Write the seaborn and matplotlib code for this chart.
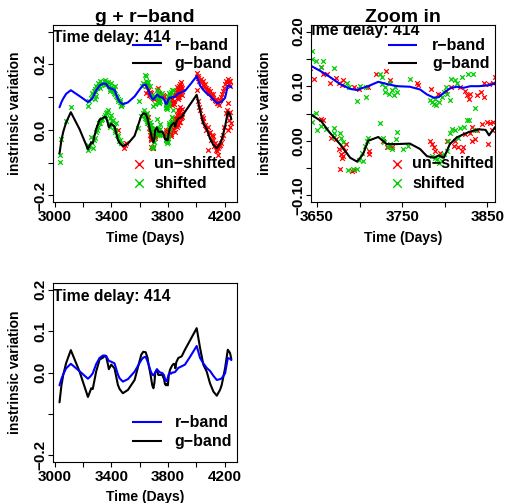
import numpy as np
import matplotlib
matplotlib.use("Agg")
import matplotlib.pyplot as plt
import seaborn as sns

# ---------------------------------------------------------------------------
# Model light curves (intrinsic variation) for the two bands
curve_t = [3033, 3047, 3060, 3080, 3113, 3175, 3234, 3250, 3257, 3268, 3292,
           3316, 3340, 3354, 3363, 3375, 3382, 3399, 3422, 3446, 3458, 3481,
           3517, 3564, 3611, 3625, 3642, 3655, 3665, 3677, 3689, 3697, 3704,
           3710, 3722, 3732, 3744, 3759, 3771, 3779, 3787, 3793, 3799, 3806,
           3814, 3822, 3830, 3840, 3848, 3852, 3859, 3873, 3897, 3920, 3960,
           4003, 4027, 4050, 4074, 4097, 4121, 4145, 4168, 4180, 4204, 4223,
           4239, 4248]
curve_g = [-0.072, -0.030, -0.005, 0.023, 0.054, 0.002, -0.059, -0.045, -0.038,
           -0.040, 0.002, 0.031, 0.036, 0.040, 0.038, 0.020, 0.008, 0.019,
           0.010, -0.030, -0.040, -0.050, -0.042, -0.018, 0.043, 0.050, 0.049,
           0.036, 0.015, -0.006, -0.031, -0.038, -0.025, 0.000, 0.007, -0.006,
           -0.006, -0.005, -0.015, -0.028, -0.031, -0.027, -0.031, -0.006,
           0.006, 0.012, 0.017, 0.021, 0.020, 0.010, 0.025, 0.035, 0.039,
           0.055, 0.080, 0.107, 0.059, 0.019, 0.002, -0.026, -0.046, -0.056,
           -0.042, -0.030, 0.011, 0.055, 0.047, 0.032]
curve_r = [-0.031, -0.015, -0.004, 0.010, 0.021, 0.003, -0.015, -0.010, -0.007,
           -0.002, 0.020, 0.035, 0.041, 0.041, 0.040, 0.032, 0.028, 0.026,
           0.022, -0.005, -0.014, -0.022, -0.016, 0.002, 0.030, 0.036, 0.038,
           0.027, 0.017, 0.004, -0.005, -0.007, -0.003, 0.000, 0.008, 0.004,
           0.000, -0.001, -0.006, -0.015, -0.021, -0.020, -0.012, -0.004,
           -0.001, -0.003, 0.000, 0.000, 0.001, 0.002, 0.005, 0.011, 0.015,
           0.019, 0.040, 0.064, 0.035, 0.022, 0.011, 0.004, -0.008, -0.018,
           -0.016, -0.014, -0.002, 0.035, 0.033, 0.030]

# Observed points: image A (un-shifted, red) and image B (shifted, green)
shift_r_t = [3234, 3240, 3257, 3264, 3270, 3275, 3281, 3281, 3286, 3292, 3292,
             3298, 3304, 3310, 3316, 3321, 3327, 3335, 3345, 3352, 3358, 3363,
             3370, 3378, 3382, 3388, 3392, 3395, 3399, 3406, 3410, 3415, 3418,
             3422, 3426, 3430, 3438, 3446, 3450, 3458, 3462, 3466, 3470, 3475,
             3595, 3618, 3623, 3635,
             3644, 3644, 3649, 3655, 3657, 3670, 3685, 3688, 3697, 3701, 3708,
             3708, 3724, 3726, 3726, 3730, 3730, 3734, 3736, 3738, 3740, 3742,
             3744, 3759, 3783, 3785, 3787, 3789, 3790, 3793, 3797, 3799, 3801,
             3803, 3806, 3807, 3812, 3814, 3820, 3827, 3833, 3835]
shift_r_v = [-0.028, -0.012, -0.003, 0.013, 0.010, 0.020, 0.018, -0.006, 0.025,
             0.033, 0.003, 0.028, 0.042, 0.035, 0.049, 0.028, 0.040, 0.044,
             0.050, 0.038, 0.052, 0.046, 0.040, 0.045, 0.033, 0.025, 0.018,
             0.030, 0.044, 0.028, 0.020, 0.013, 0.025, 0.033, 0.010, 0.003,
             0.000, -0.006, -0.012, -0.016, -0.010, -0.028, -0.023, -0.020,
             -0.013, 0.033, 0.044, 0.066,
             0.064, 0.049, 0.047, 0.035, 0.047, 0.033, 0.005, -0.001, -0.027,
             0.001, -0.020, -0.001, 0.022, 0.004, 0.017, -0.001, -0.011,
             -0.014, 0.005, -0.007, -0.017, -0.001, -0.011, 0.014, -0.025,
             -0.029, -0.032, -0.023, -0.035, -0.029, -0.020, -0.011, -0.001,
             -0.014, -0.025, 0.014, 0.011, 0.005, 0.017, 0.022, 0.023, -0.040]

shift_g_t = [3033, 3035, 3045, 3076, 3113, 3232, 3236, 3245, 3257, 3264, 3269,
             3275, 3281, 3288, 3295, 3304, 3310, 3316, 3325, 3335, 3345, 3355,
             3363, 3366, 3375, 3380, 3387, 3392, 3399, 3406, 3410, 3415, 3422,
             3428, 3434, 3439, 3445, 3452, 3458, 3470, 3588, 3611, 3623, 3630,
             3635, 3640,
             3644, 3644, 3649, 3650, 3655, 3661, 3670, 3670, 3670, 3677, 3678,
             3681, 3686, 3692, 3697, 3699, 3703, 3704, 3706, 3709, 3710, 3724,
             3727, 3729, 3733, 3736, 3738, 3743, 3744, 3751, 3757, 3785, 3789,
             3791, 3793, 3795, 3797, 3799, 3803, 3804, 3806, 3808, 3812, 3816,
             3818, 3823, 3826, 3828, 3836]
shift_g_v = [-0.097, -0.077, -0.029, 0.026, 0.070, -0.046, -0.062, -0.050,
             -0.021, -0.041, -0.056, -0.030, -0.026, -0.005, 0.000, 0.010,
             0.020, 0.021, 0.030, 0.033, 0.040, 0.045, 0.051, 0.056, 0.062,
             0.020, 0.036, 0.010, 0.046, 0.026, 0.030, 0.010, -0.005, 0.000,
             0.021, -0.015, -0.020, -0.035, -0.031, -0.041, 0.005, 0.041, 0.051,
             0.060, 0.036, 0.045,
             0.048, 0.034, 0.051, 0.020, 0.028, 0.022, 0.024, 0.015, 0.007,
             0.015, 0.006, -0.003, -0.054, -0.052, -0.051, -0.036, -0.022,
             -0.037, -0.009, 0.000, 0.006, 0.032, 0.006, -0.003, -0.011, -0.006,
             -0.015, 0.003, 0.017, -0.015, -0.009, -0.028, -0.031, -0.034,
             -0.040, -0.028, -0.037, -0.025, -0.019, 0.000, 0.015, 0.022, 0.019,
             0.006, 0.024, 0.025, 0.038, 0.038, 0.020]

unshift_r_t = [3642, 3647, 3655, 3657, 3662, 3665, 3672, 3676, 3679, 3681, 3693,
               3699, 3710, 3719, 3731, 3736, 3767, 3769, 3784, 3792, 3795, 3801,
               3807, 3818, 3824, 3826, 3828, 3830, 3838, 3842, 3846, 3846, 3852,
               3857, 3859, 3862, 3863, 3866, 3868, 3870, 3871, 3874, 3876, 3878,
               3880, 3882, 3884, 3886, 3888, 3890, 3892, 3894, 3896, 3898, 3899,
               4003, 4010, 4015, 4022, 4034, 4040, 4045, 4050, 4058, 4060, 4067,
               4075, 4080, 4085, 4092, 4100, 4104, 4110, 4115, 4121, 4130, 4138,
               4140, 4147, 4156, 4162, 4168, 4175, 4185, 4192, 4199, 4204, 4209,
               4215, 4223, 4228, 4232, 4238, 4242]
unshift_r_v = [0.033, 0.013, 0.036, 0.023, 0.023, 0.006, 0.015, 0.006, 0.002,
               0.012, -0.002, -0.006, -0.002, 0.023, 0.027, 0.012, 0.005, 0.002,
               -0.006, -0.014, -0.017, -0.009, -0.001, -0.001, -0.009, -0.017,
               -0.023, -0.014, -0.017, -0.011, 0.005, -0.020, 0.004, 0.005,
               0.017, 0.005, 0.030, 0.020, -0.005, 0.028, 0.000, 0.012, 0.025,
               0.035, 0.000, 0.018, 0.010, 0.040, 0.030, 0.025, 0.045, 0.032,
               0.005, 0.018, 0.028,
               0.074, 0.065, 0.059, 0.050, 0.054, 0.045, 0.050, 0.038, 0.030,
               0.040, 0.028, 0.022, 0.025, 0.018, 0.012, 0.020, 0.008, 0.000,
               0.010, -0.003, -0.008, -0.013, -0.005, -0.018, -0.018, -0.023,
               -0.008, 0.000, 0.008, 0.018, 0.028, 0.040, 0.049, 0.045, 0.054,
               0.048, 0.041, 0.050, 0.035]

unshift_g_t = [3446, 3486, 3493, 3505,
               3655, 3657, 3666, 3672, 3676, 3677, 3678, 3679, 3681, 3681, 3683,
               3684, 3691, 3693, 3711, 3711, 3728, 3732, 3736, 3738, 3783, 3785,
               3787, 3789, 3795, 3803, 3811, 3812, 3816, 3820, 3822, 3824, 3830,
               3832, 3832, 3836, 3838, 3844, 3850, 3851, 3853, 3855, 3857, 3860,
               3862, 3864, 3866, 3868, 3870, 3872, 3874, 3876, 3878, 3880, 3882,
               3884, 3886, 3888, 3890, 3892, 3895, 3897, 3899,
               4003, 4015, 4020, 4027, 4039, 4045, 4050, 4062, 4070, 4081, 4085,
               4090, 4097, 4105, 4109, 4115, 4121, 4128, 4133, 4140, 4145, 4150,
               4156, 4156, 4162, 4168, 4175, 4185, 4190, 4199, 4209, 4215, 4223,
               4225, 4228, 4232, 4236, 4239, 4244]
unshift_g_v = [0.000, -0.056, -0.046, -0.041,
               0.040, 0.038, 0.006, 0.003, -0.015, -0.052, -0.025, -0.031,
               -0.011, -0.028, -0.019, -0.005, -0.056, -0.054, -0.019, -0.025,
               0.000, -0.012, -0.009, -0.012, 0.000, -0.006, -0.012, -0.019,
               -0.022, 0.000, -0.009, 0.000, -0.012, -0.019, -0.012, 0.012,
               0.015, 0.000, 0.025, 0.003, 0.019, 0.031, 0.034, -0.006, 0.032,
               0.019, 0.034, 0.020, 0.045, 0.035, 0.010, 0.050, 0.015, 0.030,
               0.060, 0.045, 0.025, 0.055, 0.070, 0.040, 0.025, 0.060, 0.035,
               0.048, 0.050, 0.065, 0.040,
               0.123, 0.087, 0.070, 0.062, 0.041, 0.035, 0.026, 0.015, 0.000,
               0.010, -0.062, -0.010, -0.005, -0.030, -0.015, -0.020, -0.031,
               -0.050, -0.041, -0.060, -0.051, -0.065, -0.056, -0.077, -0.050,
               -0.046, -0.040, -0.026, -0.015, 0.010, 0.051, 0.060, 0.082, 0.000,
               0.045, 0.031, 0.055, 0.010, 0.020]

R_OFFSET = 0.1          # r-band drawn 0.1 above the g-band in the overlay panels
DELAY_LABEL = "Time delay: 414"

RED, GREEN, BLUE = "#FF0000", "#00CD00", "#0000FF"

# ---------------------------------------------------------------------------
sns.set_style("white")
plt.rcParams["font.family"] = ["Liberation Sans", "DejaVu Sans"]
plt.rcParams["font.weight"] = "bold"
plt.rcParams["axes.labelweight"] = "bold"
plt.rcParams["axes.titleweight"] = "bold"
plt.rcParams["axes.edgecolor"] = "black"
plt.rcParams["axes.linewidth"] = 0.8
for key in ("text.color", "axes.labelcolor", "xtick.color", "ytick.color"):
    plt.rcParams[key] = "black"

W, H = 507, 503
fig = plt.figure(figsize=(W / 100, H / 100), dpi=100)
fig.patch.set_facecolor("white")


def make_axes(left, top, right, bottom):
    return fig.add_axes([left / W, 1 - bottom / H, (right - left) / W, (bottom - top) / H])


ax1 = make_axes(53, 25, 237, 202)
ax2 = make_axes(311, 25, 495, 202)
ax3 = make_axes(53, 283, 237, 462)

TICK_FS = 11
LEG_FS = 11.5


def style_axes(ax, xticks, xlabels, yticks, ylabels, ylab_x, xlab_y):
    ax.set_xticks(xticks)
    ax.set_xticklabels(xlabels)
    ax.set_yticks(yticks)
    ax.set_yticklabels(ylabels)
    ax.tick_params(direction="out", length=3.6, width=0.8, color="black",
                   labelcolor="black", labelsize=TICK_FS, pad=2.5,
                   bottom=True, left=True)
    ax.tick_params(axis="y", pad=0.5)
    for lab in ax.get_yticklabels():
        lab.set_rotation(90)
        lab.set_va("center")
        lab.set_ha("right")
        lab.set_fontweight("bold")
    for lab in ax.get_xticklabels():
        lab.set_fontweight("bold")
    for sp in ax.spines.values():
        sp.set_visible(True)
        sp.set_color("black")
        sp.set_linewidth(0.8)
    ax.set_xlabel("Time (Days)", fontsize=10, fontweight="bold", color="black")
    ax.set_ylabel("instrinsic variation", fontsize=10, fontweight="bold", color="black")
    ax.xaxis.label.set_va("center")
    ax.yaxis.label.set_va("center")
    ax.xaxis.set_label_coords(0.5, xlab_y)
    ax.yaxis.set_label_coords(ylab_x, 0.5)
    ax.set_facecolor("white")


def line_legend(ax, ys, x0=0.427, x1=0.59, xt=0.662):
    for (label, color), y in zip([("r\u2212band", BLUE), ("g\u2212band", "black")], ys):
        ax.plot([x0, x1], [y, y], transform=ax.transAxes, color=color, lw=1.5,
                clip_on=False, solid_capstyle="butt")
        ax.text(xt, y, label, transform=ax.transAxes, ha="left", va="center",
                fontsize=LEG_FS, fontweight="bold", color="black")


def point_legend(ax, ys, xm=0.467, xt=0.549):
    for (label, color), y in zip([("un\u2212shifted", RED), ("shifted", GREEN)], ys):
        ax.scatter([xm], [y], transform=ax.transAxes, marker="x", s=38,
                   color=color, linewidths=1.0, clip_on=False)
        ax.text(xt, y, label, transform=ax.transAxes, ha="left", va="center",
                fontsize=LEG_FS, fontweight="bold", color="black")


def draw_overlay(ax):
    r_up = np.asarray(curve_r) + R_OFFSET
    sns.lineplot(x=curve_t, y=r_up, color=BLUE, lw=1.5, estimator=None,
                 sort=False, ax=ax)
    sns.lineplot(x=curve_t, y=curve_g, color="black", lw=1.5, estimator=None,
                 sort=False, ax=ax)
    pts = dict(marker="x", s=11, linewidth=0.9, legend=False, ax=ax)
    sns.scatterplot(x=unshift_r_t, y=np.asarray(unshift_r_v) + R_OFFSET, color=RED, **pts)
    sns.scatterplot(x=unshift_g_t, y=unshift_g_v, color=RED, **pts)
    sns.scatterplot(x=shift_r_t, y=np.asarray(shift_r_v) + R_OFFSET, color=GREEN, **pts)
    sns.scatterplot(x=shift_g_t, y=shift_g_v, color=GREEN, **pts)


# --- Panel 1: both bands, full time range ---------------------------------
draw_overlay(ax1)
ax1.set_xlim(2987, 4288)
ax1.set_ylim(-0.22, 0.32)
style_axes(ax1, [3000, 3200, 3400, 3600, 3800, 4000, 4200],
           ["3000", "", "3400", "", "3800", "", "4200"],
           [-0.2, -0.1, 0.0, 0.1, 0.2, 0.3],
           ["\u22120.2", "", "0.0", "", "0.2", ""], -0.207, -0.203)
ax1.set_title("g + r\u2212band", fontsize=14, fontweight="bold", pad=2.4, color="black")
ax1.text(0.0, 0.932, DELAY_LABEL, transform=ax1.transAxes, ha="left",
         va="center", fontsize=11.3, fontweight="bold", clip_on=True)
line_legend(ax1, [0.887, 0.785])
point_legend(ax1, [0.215, 0.107])

# --- Panel 2: zoomed window -------------------------------------------------
draw_overlay(ax2)
ax2.set_xlim(3643, 3859)
ax2.set_ylim(-0.112, 0.212)
style_axes(ax2, [3650, 3700, 3750, 3800, 3850],
           ["3650", "", "3750", "", "3850"],
           [-0.1, -0.05, 0.0, 0.05, 0.1, 0.15, 0.2],
           ["\u22120.10", "", "0.00", "", "0.10", "", "0.20"], -0.25, -0.203)
ax2.set_title("Zoom in", fontsize=14, fontweight="bold", pad=2.4, color="black")
ax2.text(-0.049, 0.968, DELAY_LABEL, transform=ax2.transAxes, ha="left",
         va="center", fontsize=11.3, fontweight="bold", clip_on=True)
line_legend(ax2, [0.887, 0.785], x0=0.418, x1=0.576, xt=0.658)
point_legend(ax2, [0.215, 0.107])

# --- Panel 3: the two bands without offset ---------------------------------
sns.lineplot(x=curve_t, y=curve_g, color="black", lw=1.5, estimator=None,
             sort=False, ax=ax3)
sns.lineplot(x=curve_t, y=curve_r, color=BLUE, lw=1.5, estimator=None,
             sort=False, ax=ax3)
ax3.set_xlim(2987, 4288)
ax3.set_ylim(-0.216, 0.216)
style_axes(ax3, [3000, 3200, 3400, 3600, 3800, 4000, 4200],
           ["3000", "", "3400", "", "3800", "", "4200"],
           [-0.2, -0.1, 0.0, 0.1, 0.2],
           ["\u22120.2", "", "0.0", "0.1", "0.2"], -0.207, -0.194)
ax3.text(0.0, 0.923, DELAY_LABEL, transform=ax3.transAxes, ha="left",
         va="center", fontsize=11.3, fontweight="bold", clip_on=True)
line_legend(ax3, [0.222, 0.117])

fig.savefig("out.png", dpi=100, facecolor="white")
